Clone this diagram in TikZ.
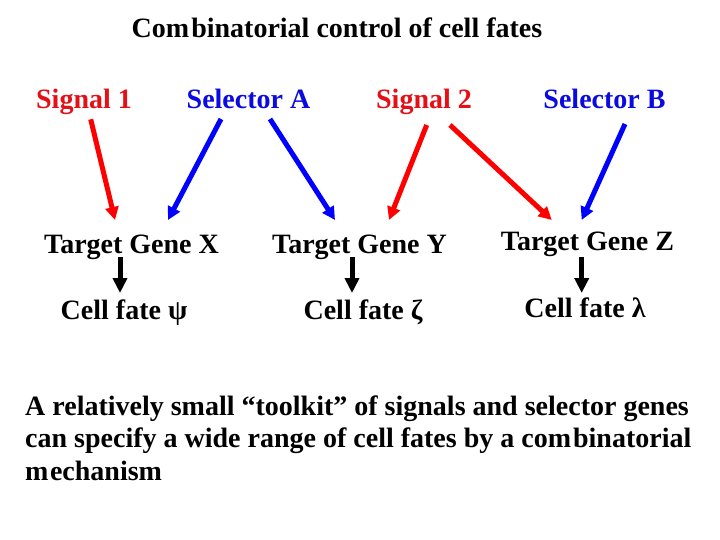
\documentclass[tikz,border=0pt]{standalone}
\usepackage{fontspec}
\setmainfont{Liberation Serif}
\usetikzlibrary{arrows.meta}
\definecolor{sigred}{RGB}{255,0,0}
\definecolor{selblue}{RGB}{0,0,255}
\definecolor{sigtext}{RGB}{228,16,22}
\definecolor{seltext}{RGB}{10,10,225}
\tikzset{
  lbl/.style={inner sep=0pt, anchor=base, font=\fontsize{28}{32}\selectfont\bfseries},
  para/.style={inner sep=0pt, anchor=base west, font=\fontsize{28}{32}\selectfont\bfseries},
  redarrow/.style={draw=sigred, line width=5pt, -{Triangle[width=13pt,length=13pt]}},
  bluearrow/.style={draw=selblue, line width=5pt, -{Triangle[width=13pt,length=13pt]}},
  blackarrow/.style={draw=black, line width=5pt, -{Triangle[width=14pt,length=15pt]}}
}
\begin{document}
\begin{tikzpicture}[x=1pt,y=-1pt]
\useasboundingbox[fill=white] (0,0) rectangle (720,540);
\node[lbl] (title) at (337,37.5) {Com\kern2pt binatorial control of cell fates};
\node[lbl, text=sigtext] (s1) at (84,109) {Signal 1};
\node[lbl, text=seltext] (sa) at (248.5,109) {Selector A};
\node[lbl, text=sigtext] (s2) at (424,109) {Signal 2};
\node[lbl, text=seltext] (sb) at (604.5,109) {Selector B};
\node[lbl] (tx) at (131.5,253) {Target Gene X};
\node[lbl] (ty) at (359.5,253) {Target Gene Y};
\node[lbl] (tz) at (587.5,251) {Target Gene Z};
\node[lbl] (cx) at (124,319) {Cell fate ψ};
\node[lbl] (cy) at (363,319) {Cell fate ζ};
\node[lbl] (cz) at (585,317) {Cell fate λ};
% colored arrows
\draw[redarrow] ([shift={(6.7,10.3)}]s1.base) -- ([shift={(-16.5,-33)}]tx.base);
\draw[bluearrow] ([shift={(-27.5,10)}]sa.base) -- ([shift={(36.5,-33)}]tx.base);
\draw[bluearrow] ([shift={(21.5,10)}]sa.base) -- ([shift={(-24.5,-33)}]ty.base);
\draw[redarrow] ([shift={(2.7,16)}]s2.base) -- ([shift={(29.5,-33)}]ty.base);
\draw[redarrow] ([shift={(26,16)}]s2.base) -- ([shift={(-35.8,-31)}]tz.base);
\draw[bluearrow] ([shift={(20.5,15)}]sb.base) -- ([shift={(-5.8,-31)}]tz.base);
% black arrows
\draw[blackarrow] ([shift={(-11.5,4)}]tx.base) -- ([shift={(-4,-26)}]cx.base);
\draw[blackarrow] ([shift={(-7.5,4)}]ty.base) -- ([shift={(-11,-26)}]cy.base);
\draw[blackarrow] ([shift={(-5.8,6)}]tz.base) -- ([shift={(-3.3,-24)}]cz.base);
% paragraph
\node[para] (p1) at (25,415) {A relatively small “toolkit” of signals and selector genes};
\node[para] (p2) at (25,447) {can specify a wide range of cell fates by a com\kern2pt binatorial};
\node[para] (p3) at (25,480) {m\kern1.5pt echanism};
\end{tikzpicture}
\end{document}
